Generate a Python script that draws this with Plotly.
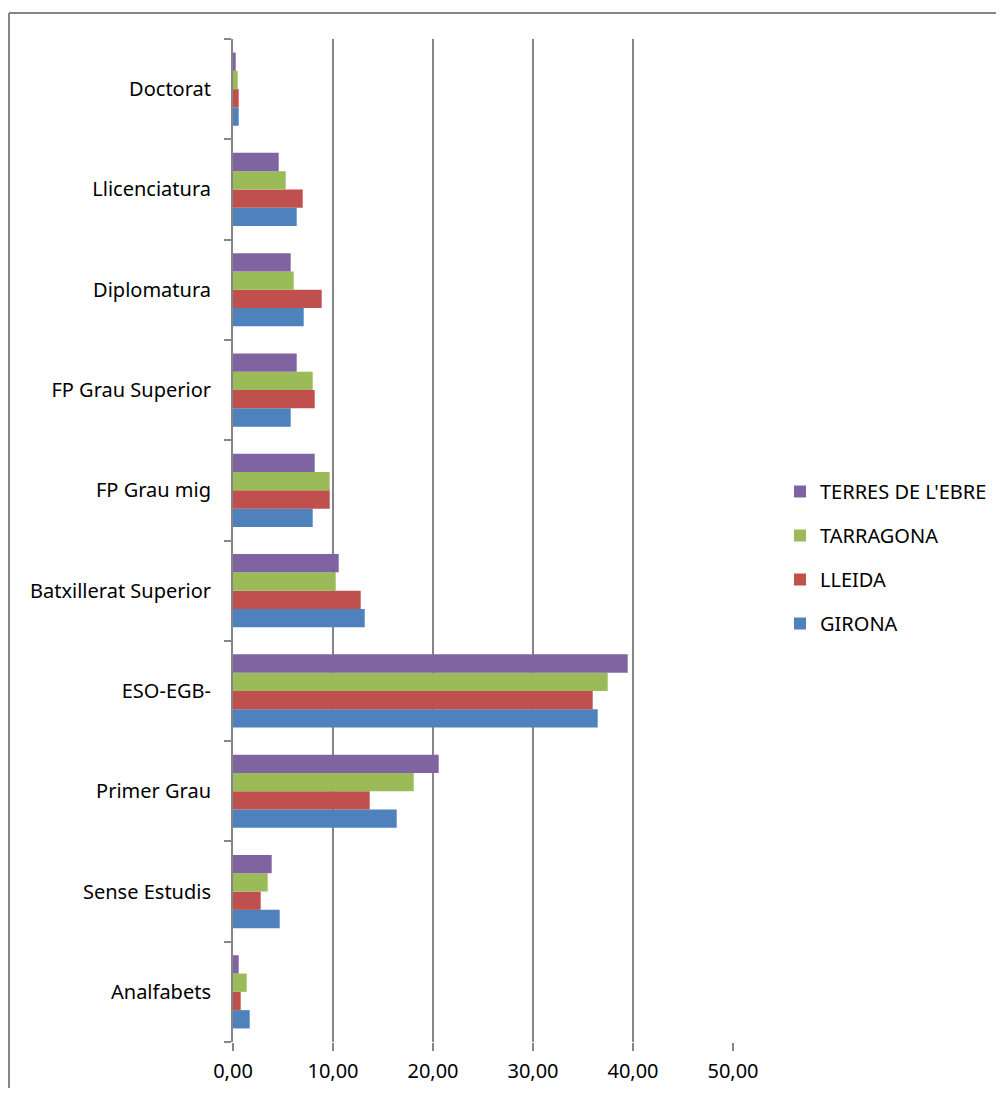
import plotly.graph_objects as go

categories = ["Analfabets", "Sense Estudis", "Primer Grau", "ESO-EGB-",
              "Batxillerat Superior", "FP Grau mig", "FP Grau Superior",
              "Diplomatura", "Llicenciatura", "Doctorat"]

girona = [1.67, 4.67, 16.37, 36.47, 13.17, 7.97, 5.77, 7.07, 6.37, 0.57]
lleida = [0.77, 2.77, 13.67, 35.97, 12.77, 9.67, 8.17, 8.87, 6.97, 0.57]
tarragona = [1.37, 3.47, 18.07, 37.47, 10.27, 9.67, 7.97, 6.07, 5.27, 0.47]
terres_ebre = [0.57, 3.87, 20.57, 39.47, 10.57, 8.17, 6.37, 5.77, 4.57, 0.27]

series_names = ["GIRONA", "LLEIDA", "TARRAGONA", "TERRES DE L'EBRE"]
series_values = [girona, lleida, tarragona, terres_ebre]
colors = ["#4F81BD", "#C0504D", "#9BBB59", "#8064A2"]
x_ticks = [0, 10, 20, 30, 40, 50]

FONT = "Noto Sans"
GRID = "#868686"

fig = go.Figure()
n = len(series_names)
for i, (name, vals, col) in enumerate(zip(series_names, series_values, colors)):
    fig.add_trace(go.Bar(
        y=categories, x=vals, name=name, orientation="h",
        marker=dict(color=col, line=dict(width=0)),
        legendgroup=name, legendrank=1000 + (n - i),
    ))

# page body has an 8px margin on every side; keep the page within the window
W, H = 988, 1080
L, T, PW, PH = 225, 31, 500, 1003
R = W - L - PW
B = H - T - PH

def px_x(p):
    return (p - L) / PW

def px_y(p):
    return (T + PH - p) / PH

fig.update_layout(
    width=W, height=H,
    margin=dict(l=L, r=R, t=T, b=B, pad=0, autoexpand=False),
    plot_bgcolor="white", paper_bgcolor="white",
    barmode="group", bargap=0.27, bargroupgap=0,
    separators=",.",
    font=dict(family=FONT, size=20, color="#000000"),
    legend=dict(
        traceorder="grouped", tracegroupgap=15,
        xref="container", yref="container",
        x=772 / W, xanchor="left", y=1 - 549.5 / H, yanchor="middle",
        font=dict(family=FONT, size=20, color="#000000"),
        bgcolor="rgba(0,0,0,0)", itemclick=False,
    ),
    xaxis=dict(
        range=[0, 50], tickvals=x_ticks, tickformat=".2f",
        showgrid=True, gridcolor=GRID, gridwidth=2,
        zeroline=False, showline=False, automargin=False,
        ticks="outside", ticklen=8, tickwidth=2, tickcolor=GRID,
        ticklabelstandoff=3,
        tickfont=dict(family=FONT, size=20, color="#000000"),
        fixedrange=True,
    ),
    yaxis=dict(
        type="category", categoryorder="array", categoryarray=categories,
        showline=True, linecolor=GRID, linewidth=2, automargin=False,
        ticks="outside", ticklen=7, tickwidth=2, tickcolor=GRID,
        tickson="boundaries", ticklabelstandoff=16,
        showgrid=False, zeroline=False,
        tickfont=dict(family=FONT, size=20, color="#000000"),
        fixedrange=True,
    ),
    shapes=[
        dict(type="line", xref="paper", yref="paper",
             x0=px_x(1), x1=px_x(W), y0=px_y(5), y1=px_y(5),
             line=dict(color=GRID, width=2), layer="below"),
        dict(type="line", xref="paper", yref="paper",
             x0=px_x(1), x1=px_x(1), y0=px_y(5), y1=px_y(H),
             line=dict(color=GRID, width=2), layer="below"),
    ],
)

fig.write_html("out.html")
